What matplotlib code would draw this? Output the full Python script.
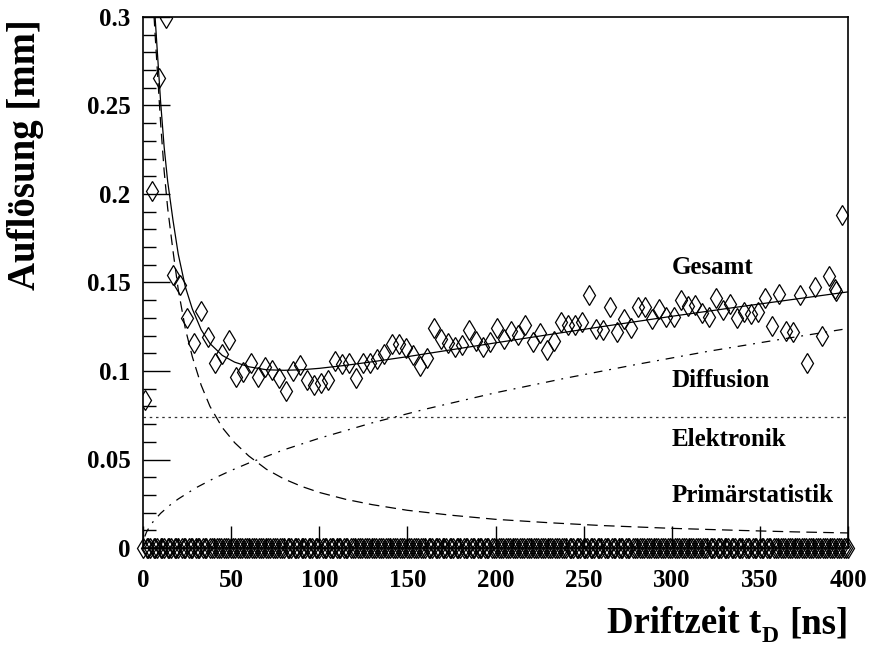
import numpy as np
import matplotlib
matplotlib.use("Agg")
import matplotlib.pyplot as plt
from matplotlib.ticker import MultipleLocator, FuncFormatter

plt.rcParams['font.family'] = ['Liberation Serif', 'DejaVu Serif']
plt.rcParams['font.weight'] = 'bold'

# measured resolution per drift-time bin [ns] -> [mm]
t_meas = [1, 5, 9, 13, 17, 21, 25, 29, 33, 37,
          41, 45, 49, 53, 57, 61, 65, 69, 73, 77,
          81, 85, 89, 93, 97, 101, 105, 109, 113, 117,
          121, 125, 129, 133, 137, 141, 145, 149, 153, 157,
          161, 165, 169, 173, 177, 181, 185, 189, 193, 197,
          201, 205, 209, 213, 217, 221, 225, 229, 233, 237,
          241, 245, 249, 253, 257, 261, 265, 269, 273, 277,
          281, 285, 289, 293, 297, 301, 305, 309, 313, 317,
          321, 325, 329, 333, 337, 341, 345, 349, 353, 357,
          361, 365, 369, 373, 377, 381, 385, 389, 392.6, 393.2,
          396.8]
sigma_meas = [0.0836, 0.2019, 0.2655, 0.2995, 0.1542, 0.1486, 0.1298, 0.1160, 0.1339, 0.1190,
              0.1047, 0.1094, 0.1175, 0.0964, 0.0996, 0.1047, 0.0964, 0.1020, 0.1006, 0.0963,
              0.0889, 0.1002, 0.1034, 0.0949, 0.0921, 0.0934, 0.0949, 0.1058, 0.1038, 0.1043,
              0.0959, 0.1047, 0.1047, 0.1068, 0.1096, 0.1155, 0.1155, 0.1132, 0.1088, 0.1028,
              0.1075, 0.1241, 0.1181, 0.1156, 0.1137, 0.1147, 0.1232, 0.1171, 0.1137, 0.1166,
              0.1241, 0.1181, 0.1228, 0.1203, 0.1260, 0.1166, 0.1213, 0.1119, 0.1171, 0.1279,
              0.1260, 0.1260, 0.1279, 0.1429, 0.1237, 0.1232, 0.1363, 0.1218, 0.1294, 0.1241,
              0.1360, 0.1360, 0.1292, 0.1348, 0.1303, 0.1307, 0.1399, 0.1367, 0.1373, 0.1330,
              0.1307, 0.1411, 0.1345, 0.1379, 0.1298, 0.1332, 0.1322, 0.1332, 0.1411, 0.1256,
              0.1435, 0.1228, 0.1218, 0.1429, 0.1047, 0.1473, 0.1198, 0.1537, 0.1462, 0.1452,
              0.1881]

# histogram range: 1 ns bins from 0 to 400, empty ones sit at zero
t_lo, t_hi, bin_width = 0, 400, 1

# fit components
t_prim = [5, 6, 7, 8, 10, 12, 14, 17, 20, 24, 28, 33, 38, 45, 52, 60, 70, 80, 90, 100,
          115, 130, 150, 175, 200, 230, 260, 300, 340, 370, 400]
sigma_prim = [0.325, 0.305, 0.288, 0.272, 0.240, 0.213, 0.192, 0.168, 0.146, 0.124,
              0.108, 0.092, 0.080, 0.068, 0.0595, 0.052, 0.0445, 0.039, 0.0348, 0.0314,
              0.0275, 0.0245, 0.0213, 0.0185, 0.0162, 0.0143, 0.0127, 0.0111, 0.0099, 0.0091,
              0.0085]

t_diff = [1, 2, 4, 6, 10, 15, 20, 30, 40, 50, 60, 80, 100, 130, 160, 200, 240, 280, 320,
          360, 400]
sigma_diff = [0.0065, 0.0090, 0.0125, 0.0152, 0.0196, 0.0240, 0.0277, 0.0340, 0.0392,
              0.0438, 0.0480, 0.0555, 0.0620, 0.0707, 0.0784, 0.0877, 0.0960, 0.1037,
              0.1110, 0.1176, 0.1240]

sigma_elec = 0.074

t_tot = [6, 7, 8, 10, 12, 14, 17, 20, 24, 28, 33, 38, 45, 52, 60, 70, 80, 90, 100, 115,
         130, 150, 175, 200, 230, 260, 300, 340, 370, 400]
sigma_tot = [0.3150, 0.2978, 0.2824, 0.2519, 0.2265, 0.2071, 0.1853, 0.1660, 0.1476, 0.1350,
             0.1233, 0.1155, 0.1088, 0.1050, 0.1024, 0.1007, 0.1004, 0.1007, 0.1015, 0.1032,
             0.1052, 0.1081, 0.1120, 0.1159, 0.1205, 0.1250, 0.1309, 0.1365, 0.1406, 0.1447]

labels = ["Gesamt", "Diffusion", "Elektronik", "Primärstatistik"]
label_y = [0.1548, 0.0908, 0.0576, 0.0262]

W, H = 871, 648
fig = plt.figure(figsize=(W / 100, H / 100), dpi=100)
ax = fig.add_axes([143 / W, 1 - 548 / H, 705 / W, 531 / H])

filled = np.round(np.array(t_meas)).astype(int)
t_empty = np.arange(t_lo, t_hi + bin_width, bin_width)
t_empty = t_empty[~np.isin(t_empty, filled)]

mk = dict(marker='d', ms=10.5, mfc='none', mec='black', mew=0.9, ls='none')
ax.plot(t_meas, sigma_meas, **mk)
ax.plot(t_empty, np.zeros_like(t_empty), clip_on=False, **mk)

ax.plot(t_tot, sigma_tot, color='black', lw=0.9)
ax.plot(t_prim, sigma_prim, color='black', lw=0.9, dashes=(8.5, 5))
ax.plot(t_diff, sigma_diff, color='black', lw=0.9, dashes=(7, 5.5, 1.5, 5.5))
ax.axhline(sigma_elec, color='#333333', lw=0.9, dashes=(2, 3))

for txt, yy in zip(labels, label_y):
    ax.text(300, yy, txt, fontsize=18, fontweight='bold', va='baseline', ha='left')

ax.set_xlim(t_lo, t_hi)
ax.set_ylim(0, 0.3)

ax.xaxis.set_major_locator(MultipleLocator(50))
ax.xaxis.set_minor_locator(MultipleLocator(10))
ax.yaxis.set_major_locator(MultipleLocator(0.05))
ax.yaxis.set_minor_locator(MultipleLocator(0.01))
ax.yaxis.set_major_formatter(FuncFormatter(lambda v, p: '%g' % round(v, 3)))
ax.tick_params(which='both', direction='in', top=False, right=False, width=1)
ax.tick_params(axis='x', which='major', length=16, pad=15, labelsize=18)
ax.tick_params(axis='x', which='minor', length=7)
ax.tick_params(axis='y', which='major', length=19.5, pad=9, labelsize=18)
ax.tick_params(axis='y', which='minor', length=9.5)
for s in ax.spines.values():
    s.set_linewidth(1.2)

# x title in three pieces so the subscript sits low like the ROOT original
fig.text(761 / W, 1 - 633 / H, 'Driftzeit t', fontsize=26.5, fontweight='bold',
         ha='right', va='baseline')
fig.text(762 / W, 1 - 642 / H, 'D', fontsize=17, fontweight='bold',
         ha='left', va='baseline')
fig.text(848 / W, 1 - 633 / H, '[ns]', fontsize=26.5, fontweight='bold',
         ha='right', va='baseline')
fig.text(25 / W, 1 - 19 / H, 'Auflösung [mm]', fontsize=28, fontweight='bold',
         rotation=90, ha='center', va='top')

fig.savefig('out.png', dpi=100)
